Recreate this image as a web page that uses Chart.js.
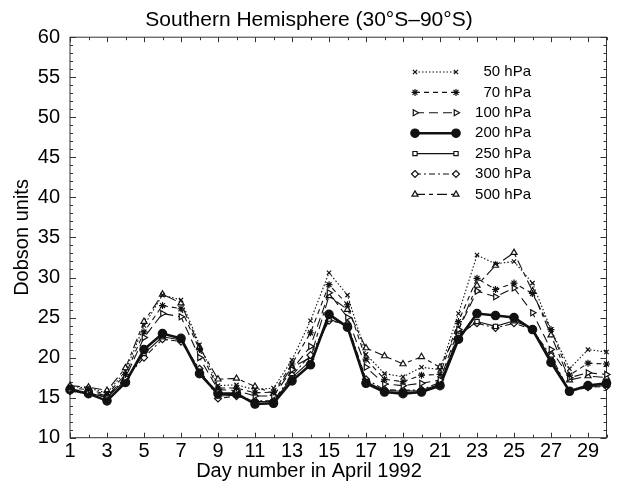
<!DOCTYPE html>
<html>
<head>
<meta charset="utf-8">
<script src="https://cdn.jsdelivr.net/npm/chart.js@4/dist/chart.umd.min.js"></script>
<style>
  html, body { margin: 0; padding: 0; background: #fff; }
</style>
</head>
<body>
<canvas id="chart" width="618" height="489"></canvas>
<script>
// Data
const days = [1,2,3,4,5,6,7,8,9,10,11,12,13,14,15,16,17,18,19,20,21,22,23,24,25,26,27,28,29,30];
const yTicks = [10,15,20,25,30,35,40,45,50,55,60];

const p50  = [16.4,16.2,15.6,18.3,24.0,27.8,27.2,21.6,16.5,16.6,16.0,16.2,19.7,24.6,30.6,27.8,20.4,18.0,17.6,18.8,18.5,25.5,32.8,31.7,32.0,29.3,23.5,18.6,21.0,20.7];
const p70  = [16.2,16.0,15.4,17.9,23.2,26.5,26.1,21.0,16.2,16.2,15.6,15.7,19.2,23.1,29.1,26.6,19.8,17.3,17.0,17.8,17.9,24.5,29.9,28.5,29.3,28.0,23.5,17.8,19.3,19.2];
const p100 = [16.0,15.8,15.2,17.5,22.5,25.5,25.1,20.0,16.0,15.9,15.2,15.2,18.5,21.4,28.1,25.0,18.8,16.7,16.5,16.8,17.2,23.5,28.3,27.6,28.7,25.6,21.0,17.5,18.1,17.9];
const p200 = [16.0,15.5,14.6,16.9,21.0,23.0,22.4,18.0,15.5,15.5,14.2,14.3,17.1,19.1,25.4,23.8,16.8,15.7,15.5,15.7,16.5,22.3,25.5,25.25,25.0,23.5,19.4,15.8,16.5,16.8];
const p250 = [15.9,15.6,15.0,17.2,20.5,22.6,22.2,18.3,15.2,15.3,14.5,14.5,17.5,19.6,24.8,24.0,17.0,15.9,15.8,15.9,16.7,22.8,24.5,23.9,24.6,23.6,19.8,15.9,16.4,16.5];
const p300 = [15.8,15.5,15.1,17.4,20.0,22.3,22.0,18.6,14.9,15.2,14.6,14.6,17.8,20.3,24.6,24.2,17.3,16.0,15.9,16.0,16.9,23.0,24.3,23.7,24.3,23.5,20.2,15.8,16.3,16.4];
const p500 = [16.5,16.3,15.9,18.7,24.5,27.9,26.8,21.3,17.3,17.4,16.4,15.5,18.8,20.0,27.7,26.0,21.2,20.2,19.2,20.1,18.8,23.5,29.0,31.5,33.1,28.3,22.8,17.2,17.7,17.5];

const FONT = '"Liberation Sans", Arial, Helvetica, sans-serif';
const INK = '#111';

// ticks pointing into the plot, on all four sides, plus the frame
const innerTicks = {
  id: 'innerTicks',
  beforeDatasetsDraw(chart) {
    const {ctx, chartArea: a, scales: {x, y}} = chart;
    ctx.save();
    ctx.strokeStyle = '#333';
    ctx.lineWidth = 1;
    ctx.strokeRect(a.left, a.top, a.right - a.left, a.bottom - a.top);
    ctx.beginPath();
    days.forEach((d, i) => {
      const px = Math.round(x.getPixelForValue(i)) + 0.5;
      const len = i % 2 === 0 ? 5 : 3;
      ctx.moveTo(px, a.bottom); ctx.lineTo(px, a.bottom - len);
      ctx.moveTo(px, a.top); ctx.lineTo(px, a.top + len);
    });
    for (let v = 10; v <= 60; v++) {
      const py = Math.round(y.getPixelForValue(v)) + 0.5;
      const len = v % 5 === 0 ? 6 : 3;
      ctx.moveTo(a.left, py); ctx.lineTo(a.left + len, py);
      ctx.moveTo(a.right, py); ctx.lineTo(a.right - len, py);
    }
    ctx.stroke();
    ctx.restore();
  }
};

// legend inside the plot with line samples
const lineLegend = {
  id: 'lineLegend',
  afterDraw(chart) {
    const ctx = chart.ctx;
    chart.data.datasets.forEach((ds, i) => {
      const yy = 72 + i * 20.4;
      ctx.save();
      ctx.strokeStyle = ds.borderColor;
      ctx.lineWidth = ds.borderWidth;
      ctx.setLineDash(ds.borderDash || []);
      ctx.beginPath();
      ctx.moveTo(415, yy);
      ctx.lineTo(456, yy);
      ctx.stroke();
      ctx.setLineDash([]);
      const opts = {
        pointStyle: ds.pointStyle,
        rotation: ds.pointRotation || 0,
        radius: ds.pointRadius,
        borderWidth: ds.pointBorderWidth
      };
      ctx.fillStyle = ds.pointBackgroundColor;
      ctx.strokeStyle = ds.pointBorderColor;
      ctx.lineWidth = ds.pointBorderWidth;
      Chart.helpers.drawPoint(ctx, opts, 415, yy);
      Chart.helpers.drawPoint(ctx, opts, 456, yy);
      ctx.fillStyle = '#000';
      ctx.font = '15px ' + FONT;
      ctx.textAlign = 'right';
      ctx.textBaseline = 'middle';
      ctx.fillText(ds.label, 531, yy);
      ctx.restore();
    });
  }
};

function series(label, data, dash, width, style, radius, fill, rot) {
  return {
    label: label,
    data: data,
    borderColor: INK,
    borderWidth: width,
    borderDash: dash,
    pointStyle: style,
    pointRadius: radius,
    pointHoverRadius: radius,
    pointRotation: rot || 0,
    pointBackgroundColor: fill,
    pointBorderColor: INK,
    pointBorderWidth: 1.2,
    tension: 0,
    fill: false,
    clip: false
  };
}

new Chart(document.getElementById('chart'), {
  type: 'line',
  data: {
    labels: days,
    datasets: [
      series('50 hPa', p50, [1.5, 2], 1.1, 'crossRot', 3, INK),
      series('70 hPa', p70, [5, 4], 1.1, 'star', 3.5, INK),
      series('100 hPa', p100, [9, 5], 1.1, 'triangle', 3.5, '#fff', 90),
      series('200 hPa', p200, [], 2.6, 'circle', 4.2, INK),
      series('250 hPa', p250, [], 1.1, 'rect', 3, '#fff'),
      series('300 hPa', p300, [6, 3, 2, 3], 1.1, 'rectRot', 3.5, '#fff'),
      series('500 hPa', p500, [10, 4, 4, 4], 1.1, 'triangle', 3.5, '#fff')
    ]
  },
  options: {
    responsive: false,
    devicePixelRatio: 1,
    animation: false,
    events: [],
    layout: { padding: 0 },
    plugins: {
      legend: { display: false },
      tooltip: { enabled: false },
      title: {
        display: true,
        text: 'Southern Hemisphere (30°S–90°S)',
        color: '#000',
        font: { family: FONT, size: 21, weight: 'normal' },
        padding: { top: 8, bottom: 4 }
      },
      subtitle: {
        display: true,
        position: 'bottom',
        text: 'Day number in April 1992',
        color: '#000',
        font: { family: FONT, size: 20, weight: 'normal' },
        padding: { top: 0, bottom: 6 }
      }
    },
    scales: {
      x: {
        grid: { display: false, drawTicks: false },
        border: { display: false },
        ticks: {
          color: '#000',
          font: { family: FONT, size: 20 },
          padding: 2,
          autoSkip: false,
          maxRotation: 0,
          minRotation: 0,
          callback: function (val, i) { return i % 2 === 0 ? days[i] : ''; }
        },
        afterFit: s => { s.height = 21.3; }
      },
      y: {
        min: 10,
        max: 60,
        grid: { display: false, drawTicks: false },
        border: { display: false },
        ticks: {
          color: '#000',
          font: { family: FONT, size: 20 },
          padding: 10,
          stepSize: 5,
          callback: v => yTicks.includes(v) ? v : ''
        },
        title: {
          display: true,
          text: 'Dobson units',
          color: '#000',
          font: { family: FONT, size: 20 },
          padding: { top: 10, bottom: 0 }
        },
        afterFit: s => { s.width = 70; }
      },
      y2: {
        position: 'right',
        min: 10,
        max: 60,
        grid: { display: false, drawTicks: false },
        border: { display: false },
        ticks: { display: false },
        afterFit: s => { s.width = 11.5; }
      }
    }
  },
  plugins: [innerTicks, lineLegend]
});
</script>
</body>
</html>
